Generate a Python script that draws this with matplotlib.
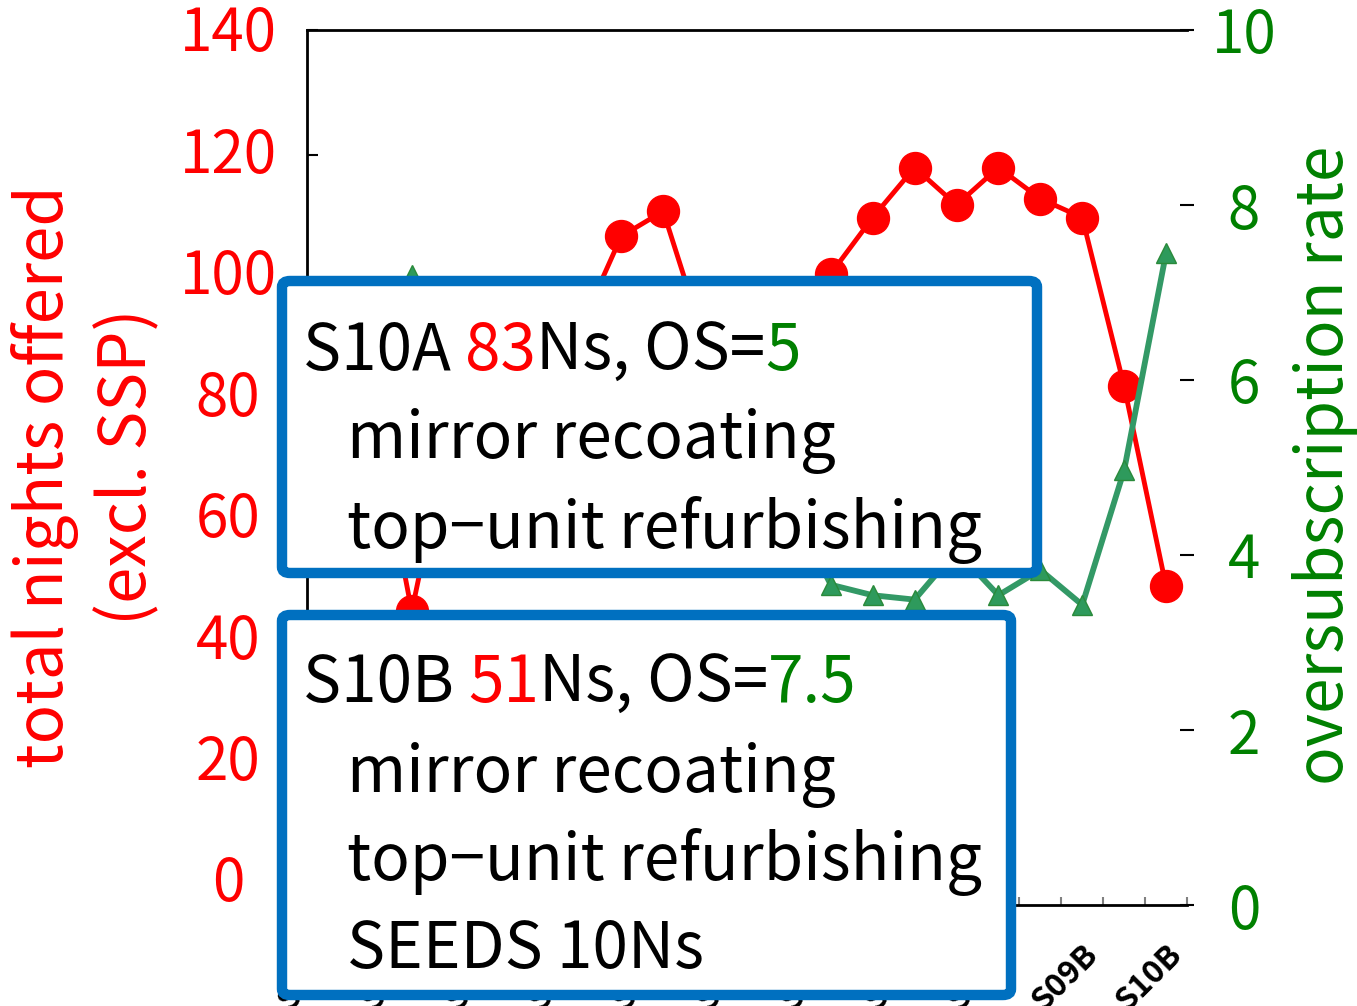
import numpy as np
import matplotlib.pyplot as plt
from matplotlib.patches import FancyBboxPatch

plt.rcParams['font.family'] = ['Noto Sans CJK JP', 'DejaVu Sans']

# semesters S00B .. S10B
semesters = ['S00B', 'S01A', 'S01B', 'S02A', 'S02B', 'S03A', 'S03B', 'S04A', 'S04B',
             'S05A', 'S05B', 'S06A', 'S06B', 'S07A', 'S07B', 'S08A', 'S08B',
             'S09A', 'S09B', 'S10A', 'S10B']
# total nights offered (excl. SSP); points behind the boxes are estimates
nights = [85, 82, 47, 79, 84, 88, 92, 107, 111, 90, 88, 89, 101, 110, 118,
          112, 118, 113, 110, 83, 51]
# oversubscription rate
os_rate = [6.2, 6.6, 7.2, 5.5, 4.8, 4.5, 4.2, 4.0, 4.3, 4.1, 4.4, 4.6, 3.66, 3.54, 3.49,
           4.05, 3.54, 3.83, 3.43, 4.97, 7.45]
left_ticks = [0, 20, 40, 60, 80, 100, 120, 140]

RED = '#ff0000'
GREEN_TXT = '#008000'
GREEN_LINE = '#339966'
BLUE = '#0070c0'

W, H = 1357, 1006
fig = plt.figure(figsize=(W / 100, H / 100), dpi=100)


def fx(x):
    return x / W


def fy(y):
    return 1 - y / H


ax = fig.add_axes([fx(307), fy(905), fx(1187) - fx(307), fy(30) - fy(905)])
x = np.arange(len(semesters))
ax.plot(x, nights, color=RED, lw=3.5, marker='o', ms=23, zorder=3)
ax.set_xlim(-0.5, len(semesters) - 0.5)
ax.set_ylim(0, 140)
ax.set_yticks(left_ticks)
ax.set_yticklabels([])
ax.tick_params(axis='y', direction='in', length=8, width=1.5, colors='black')
# left labels sit slightly closer together than the ticks in the original
for v in left_ticks:
    ax.annotate(str(v), xy=(0, v), xycoords=('axes fraction', 'data'),
                xytext=(-79, -5 + (140 - v) / 20 * 3.6), textcoords='offset pixels',
                ha='center', va='center', color=RED, fontsize=42)

ax.set_xticks(np.arange(len(semesters)) + 0.5)
ax.set_xticklabels([])
ax.tick_params(axis='x', which='major', direction='in', length=6, width=1.5, colors='gray')
ax.set_xticks(x[::2], minor=True)
ax.set_xticklabels(semesters[::2], minor=True, rotation=45, ha='right',
                   rotation_mode='anchor', fontsize=23, fontweight='bold')
ax.tick_params(axis='x', which='minor', length=0, pad=24)
ax.spines['right'].set_visible(False)
for s in ['left', 'top', 'bottom']:
    ax.spines[s].set_linewidth(2)

ax2 = ax.twinx()
ax2.plot(x, os_rate, color=GREEN_LINE, lw=4.2, marker='^', ms=15,
         markerfacecolor='#2e9a5c', markeredgecolor='#2a8a3a', zorder=3)
ax2.set_ylim(0, 10)
ax2.set_yticks(range(0, 11, 2))
ax2.tick_params(axis='y', direction='inout', length=10, width=1.5, colors='black',
                labelcolor=GREEN_TXT, labelsize=42, pad=36)
for lab in ax2.get_yticklabels():
    lab.set_horizontalalignment('center')
for s in ['left', 'right', 'top', 'bottom']:
    ax2.spines[s].set_visible(False)

fig.text(fx(45), fy(477), 'total nights offered', color=RED, fontsize=47,
         rotation=90, ha='center', va='center')
fig.text(fx(128), fy(467), '(excl. SSP)', color=RED, fontsize=47,
         rotation=90, ha='center', va='center')
fig.text(fx(1325), fy(465), 'oversubscription rate', color=GREEN_TXT, fontsize=46,
         rotation=90, ha='center', va='center')

# annotation boxes
for (x0, y0, x1, y1) in [(282, 281, 1037, 573), (282, 615, 1011, 995)]:
    box = FancyBboxPatch((fx(x0), fy(y1)), fx(x1) - fx(x0), fy(y0) - fy(y1),
                         boxstyle='round,pad=0,rounding_size=0.006',
                         transform=fig.transFigure, facecolor='white',
                         edgecolor=BLUE, linewidth=7.5, zorder=5)
    fig.add_artist(box)

FS = 46


def chain(xp, yp, parts):
    prev = fig.text(fx(xp), fy(yp), parts[0][0], color=parts[0][1], fontsize=FS,
                    va='baseline', ha='left', zorder=6)
    for s, c in parts[1:]:
        prev = fig.add_artist(plt.Annotation(s, xy=(1, 0), xycoords=prev,
                                             va='bottom', ha='left', color=c,
                                             fontsize=FS, zorder=6))


chain(303, 370, [('S10A ', 'black'), ('83', RED), ('Ns, OS=', 'black'), ('5', GREEN_TXT)])
fig.text(fx(347), fy(458), 'mirror recoating', fontsize=FS, va='baseline', zorder=6)
fig.text(fx(347), fy(548), 'top\u2212unit refurbishing', fontsize=FS, va='baseline', zorder=6)

chain(303, 702, [('S10B ', 'black'), ('51', RED), ('Ns, OS=', 'black'), ('7.5', GREEN_TXT)])
fig.text(fx(347), fy(792), 'mirror recoating', fontsize=FS, va='baseline', zorder=6)
fig.text(fx(347), fy(880), 'top\u2212unit refurbishing', fontsize=FS, va='baseline', zorder=6)
fig.text(fx(347), fy(968), 'SEEDS 10Ns', fontsize=FS, va='baseline', zorder=6)

fig.savefig('out.png', dpi=100)
